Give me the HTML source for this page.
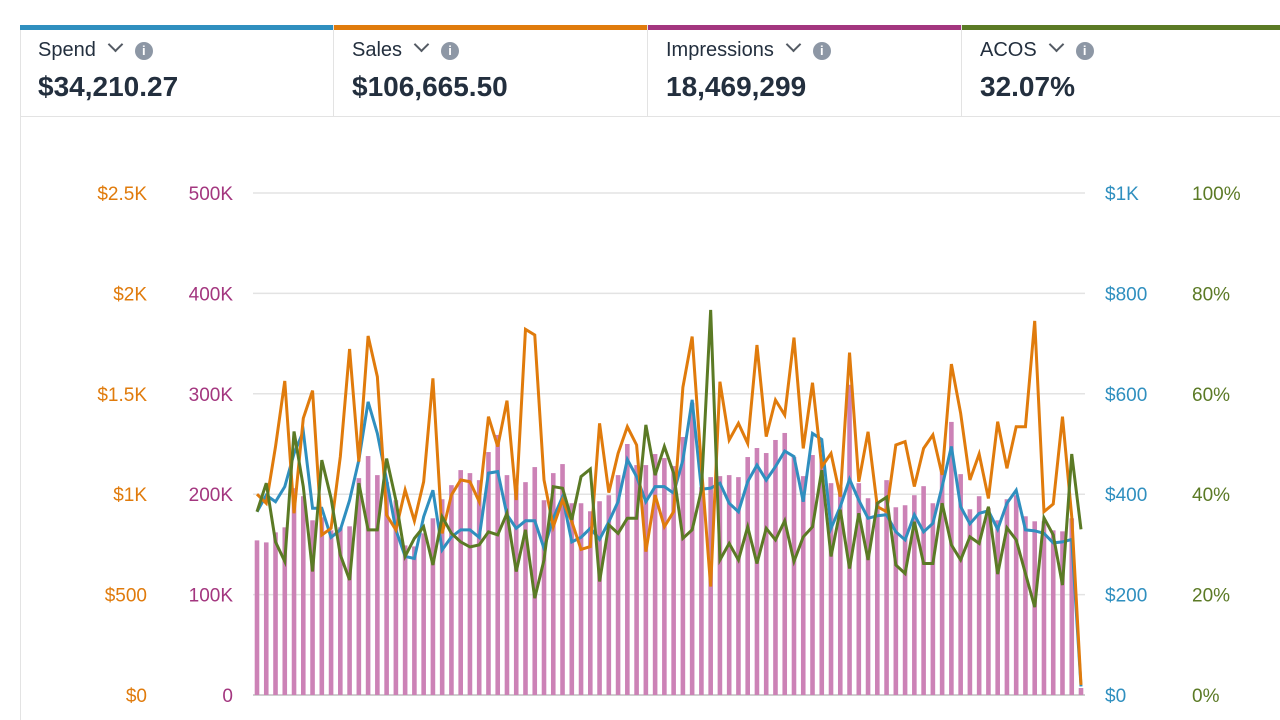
<!DOCTYPE html>
<html><head><meta charset="utf-8"><style>
body{margin:0;width:1280px;height:720px;background:#fff;font-family:"Liberation Sans",sans-serif;overflow:hidden;position:relative}
.card{position:absolute;top:25px;height:92px;border-right:1px solid #e3e3e3;box-sizing:border-box}
.bar{position:absolute;left:0;right:0;top:0;height:5px}
.lbl{position:absolute;left:18px;top:14px;font-size:20px;color:#232f3e;white-space:nowrap}
.val{position:absolute;left:18px;top:46px;font-size:28px;font-weight:bold;color:#232f3e;white-space:nowrap}
.chev{display:inline-block;margin-left:14px;width:9px;height:9px;border-right:2.5px solid #545b64;border-bottom:2.5px solid #545b64;transform:rotate(45deg);position:relative;top:-6px}
.info{display:inline-block;margin-left:14px;width:18px;height:18px;border-radius:50%;background:#8d97a5;color:#fff;font-size:13px;font-weight:bold;text-align:center;line-height:18px;position:relative;top:-1px}
</style></head><body>
<div style="position:absolute;left:20px;top:25px;width:1px;height:695px;background:#e3e3e3"></div>
<div style="position:absolute;left:21px;top:116px;width:1259px;height:1px;background:#e3e3e3"></div>
<div class="card" style="left:20px;width:314px"><div class="bar" style="background:#2f8fbf"></div><div class="lbl">Spend<span class="chev"></span><span class="info">i</span></div><div class="val">$34,210.27</div></div>
<div class="card" style="left:334px;width:314px"><div class="bar" style="background:#e07b0c"></div><div class="lbl">Sales<span class="chev"></span><span class="info">i</span></div><div class="val">$106,665.50</div></div>
<div class="card" style="left:648px;width:314px"><div class="bar" style="background:#a3367f"></div><div class="lbl">Impressions<span class="chev"></span><span class="info">i</span></div><div class="val">18,469,299</div></div>
<div class="card" style="left:962px;width:318px;border-right:none"><div class="bar" style="background:#5b7a25"></div><div class="lbl">ACOS<span class="chev"></span><span class="info">i</span></div><div class="val">32.07%</div></div>
<svg id="chart" width="1280" height="720" style="position:absolute;left:0;top:0"></svg>
<script>
const sales=[1000,955,1237,1564,905,1378,1516,797,830,1187,1723,1162,1788,1585,896,822,1021,867,1062,1577,805,996,1071,1062,963,1386,1237,1466,971,1821,1793,1071,838,971,863,725,739,1353,1008,1203,1336,1245,714,996,838,913,1532,1785,1137,540,1560,1270,1353,1253,1743,1287,1469,1394,1780,1228,1555,1137,1203,988,1705,1062,1311,938,913,1245,1262,1038,1228,1295,1096,1648,1403,1071,1200,979,1361,1129,1336,1336,1863,913,951,1386,888,50];
const spend=[365,398,385,415,481,525,372,372,314,329,388,468,584,521,428,329,276,272,355,408,289,315,329,329,314,442,445,359,332,347,347,292,352,395,305,314,332,310,345,385,469,435,385,415,415,402,468,588,410,412,422,382,365,425,458,428,455,486,475,385,521,509,332,375,430,388,352,357,359,325,309,359,325,342,415,495,375,341,362,367,330,382,408,329,327,322,303,305,310,17];
const acos=[36.5,42.2,30.5,26.6,52.5,41.5,24.6,46.8,39.2,27.9,22.9,42.2,32.9,32.9,47.1,38.8,27.6,31.2,33.5,25.9,35.5,32.2,30.5,29.5,29.9,32.5,31.9,36.2,24.6,32.9,19.3,26.9,41.5,41.2,34.9,43.5,45.0,22.6,33.9,32.2,35.2,35.2,53.8,43.8,49.5,44.2,31.2,32.9,40.8,76.7,26.9,30.2,26.9,33.5,26.2,33.2,30.9,34.7,26.6,31.5,33.5,44.8,27.6,36.9,25.2,36.2,26.9,38.2,39.4,25.9,24.2,34.5,26.2,26.2,38.2,29.9,26.9,31.5,30.2,37.5,24.1,33.3,30.9,24.2,17.5,35.3,31.9,21.9,48.0,33.0];
const impressions=[154,152,162,167,206,198,174,177,164,167,168,216,238,219,212,194,149,148,161,176,195,209,224,221,214,242,259,219,207,212,227,194,221,230,191,191,183,193,199,219,250,229,229,240,236,228,257,291,207,217,218,219,217,237,246,241,254,261,237,218,239,234,211,207,309,211,196,193,214,187,189,199,208,191,224,272,220,185,198,186,174,195,199,178,173,173,164,163,176,7];
const salesTicks=["$0","$500","$1K","$1.5K","$2K","$2.5K"];
const impTicks=["0","100K","200K","300K","400K","500K"];
const spendTicks=["$0","$200","$400","$600","$800","$1K"];
const acosTicks=["0%","20%","40%","60%","80%","100%"];
const NS="http://www.w3.org/2000/svg";
const svg=document.getElementById('chart');
const X0=257,X1=1081,Y0=695,Y1=193;
const n=impressions.length;
const xs=i=>X0+(X1-X0)*i/(n-1);
const ys=(v,max)=>Y0-(Y0-Y1)*v/max;
function mk(t,a){const e=document.createElementNS(NS,t);for(const k in a)e.setAttribute(k,a[k]);svg.appendChild(e);return e;}
for(let k=0;k<6;k++){
  const y=Y0-(Y0-Y1)*k/5;
  const g=mk('line',{x1:253,x2:1085,y1:y,y2:y,stroke:k==0?'#cfcfcf':'#e3e3e3','stroke-width':k==0?2:1.5});
  
  
  const specs=[[salesTicks[k],147,'end','#e07b0c','sales-tick'],[impTicks[k],233,'end','#a3367f','impressions-tick'],[spendTicks[k],1105,'start','#2f8fbf','spend-tick'],[acosTicks[k],1192,'start','#5b7a25','acos-tick']];
  for(const s of specs){
    const t=mk('text',{x:s[1],y:y+7,'text-anchor':s[2],fill:s[3],'font-size':19,'font-family':'Liberation Sans, sans-serif'});
    t.textContent=s[0];
    
    
  }
}
impressions.forEach((v,i)=>{
  const y=ys(v,500);
  const r=mk('rect',{x:xs(i)-2.3,y:y,width:4.6,height:Y0-y,fill:'#cc82b6'});
  
  
});
function line(arr,max,color,name){
  const p=mk('polyline',{points:arr.map((v,i)=>xs(i)+','+ys(v,max)).join(' '),fill:'none',stroke:color,'stroke-width':3,'stroke-linejoin':'miter'});
  
  
}
line(spend,1000,'#2f8fbf','spend-line');
line(sales,2500,'#e07b0c','sales-line');
line(acos,100,'#5b7a25','acos-line');
</script>
</body></html>
